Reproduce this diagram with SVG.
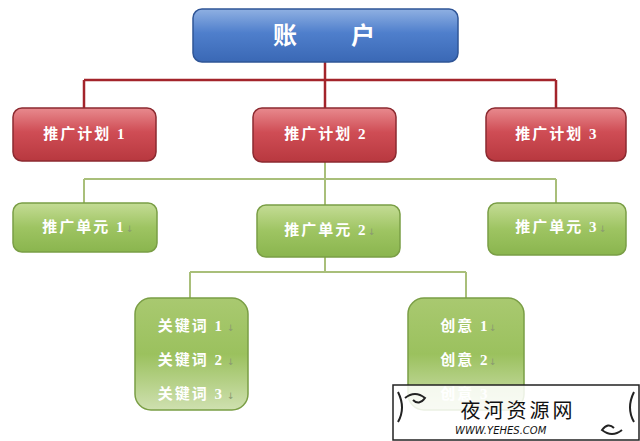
<svg xmlns="http://www.w3.org/2000/svg" width="640" height="441" viewBox="0 0 640 441">
<defs>
<linearGradient id="gb" x1="0" y1="0" x2="0" y2="1"><stop offset="0" stop-color="#8fb0e2"/><stop offset="0.45" stop-color="#4f7fcc"/><stop offset="1" stop-color="#3a68b5"/></linearGradient>
<linearGradient id="gr" x1="0" y1="0" x2="0" y2="1"><stop offset="0" stop-color="#e88a8e"/><stop offset="0.45" stop-color="#cf4d55"/><stop offset="1" stop-color="#b8383f"/></linearGradient>
<linearGradient id="gg" x1="0" y1="0" x2="0" y2="1"><stop offset="0" stop-color="#c4dc95"/><stop offset="0.5" stop-color="#9ec462"/><stop offset="1" stop-color="#8ab54e"/></linearGradient>
<linearGradient id="gg2" x1="0" y1="0" x2="0" y2="1"><stop offset="0" stop-color="#a9c970"/><stop offset="0.5" stop-color="#9bc15e"/><stop offset="1" stop-color="#cfe0b0"/></linearGradient>
</defs>
<style>
.t{font-family:"Liberation Serif","Noto Sans CJK SC",serif;fill:#fff;text-anchor:middle;font-weight:bold;letter-spacing:2px}
.m{font-size:15px}
.blue{fill:url(#gb);stroke:#2f5597;stroke-width:1.5}
.red{fill:url(#gr);stroke:#8c2a30;stroke-width:1.5}
.green{fill:url(#gg);stroke:#7a9e45;stroke-width:1.5}
.green2{fill:url(#gg2);stroke:#7a9e45;stroke-width:1.5}
.a{font-size:9px;fill:#8a9a70;font-family:"DejaVu Sans",sans-serif}
.lr{stroke:#a3242b;stroke-width:2.5;fill:none}
.lg{stroke:#a9bf7a;stroke-width:2;fill:none}
</style>
<rect width="640" height="441" fill="#fff"/>
<g id="connectors">
<path class="lr" d="M325 62V108M84 80H556M84 80V108M556 80V108"/>
<path class="lg" d="M325 162V205M84 179H556M84 179V203M556 179V203M325 257V272M190 272H466M190 272V298M466 272V298"/>
</g>
<g id="root"><rect class="blue" x="193" y="9" width="265" height="53" rx="9"/><text class="t" x="325" y="44" font-size="24">账　　户</text></g>
<g id="plan1"><rect class="red" x="13" y="108" width="143" height="53" rx="9"/><text class="t m" x="85" y="139">推广计划 1</text></g>
<g id="plan2"><rect class="red" x="253" y="108" width="143" height="54" rx="9"/><text class="t m" x="326" y="139">推广计划 2</text></g>
<g id="plan3"><rect class="red" x="486" y="108" width="140" height="53" rx="9"/><text class="t m" x="557" y="139">推广计划 3</text></g>
<g id="unit1"><rect class="green" x="13" y="203" width="144" height="49" rx="9"/><text class="t m" x="84" y="232">推广单元 1</text><text class="a" x="126" y="232">↓</text></g>
<g id="unit2"><rect class="green" x="257" y="205" width="143" height="52" rx="9"/><text class="t m" x="326" y="235">推广单元 2</text><text class="a" x="368" y="235">↓</text></g>
<g id="unit3"><rect class="green" x="488" y="203" width="138" height="52" rx="9"/><text class="t m" x="557" y="232">推广单元 3</text><text class="a" x="599" y="232">↓</text></g>
<g id="keywords"><rect class="green2" x="135" y="298" width="113" height="112" rx="16"/>
<text class="t m" x="191" y="331">关键词 1</text><text class="a" x="227" y="331">↓</text>
<text class="t m" x="191" y="365">关键词 2</text><text class="a" x="227" y="365">↓</text>
<text class="t m" x="191" y="399">关键词 3</text><text class="a" x="227" y="399">↓</text></g>
<g id="creatives"><rect class="green2" x="408" y="298" width="116" height="112" rx="16"/>
<text class="t m" x="465" y="331">创意 1</text><text class="a" x="489" y="331">↓</text>
<text class="t m" x="465" y="365">创意 2</text><text class="a" x="489" y="365">↓</text>
<text class="t m" x="465" y="399">创意 3</text></g>
<g id="watermark">
<rect x="393" y="385" width="246" height="55" fill="#fff" fill-opacity="0.85" stroke="#222" stroke-width="1.5"/>
<path d="M398 392q8 16 0 30M634 392q-8 16 0 30M405 398q10-8 20 0q-6 8-12 2M622 430q-10 8-20 0q6-8 12-2" fill="none" stroke="#222" stroke-width="2"/>
<text x="518" y="418" font-family="Noto Sans CJK SC,sans-serif" font-size="20" text-anchor="middle" fill="#111" letter-spacing="3">夜河资源网</text>
<text x="455" y="434" font-family="DejaVu Sans,sans-serif" font-size="10" font-style="italic" fill="#111">WWW.YEHES.COM</text>
</g>
</svg>
